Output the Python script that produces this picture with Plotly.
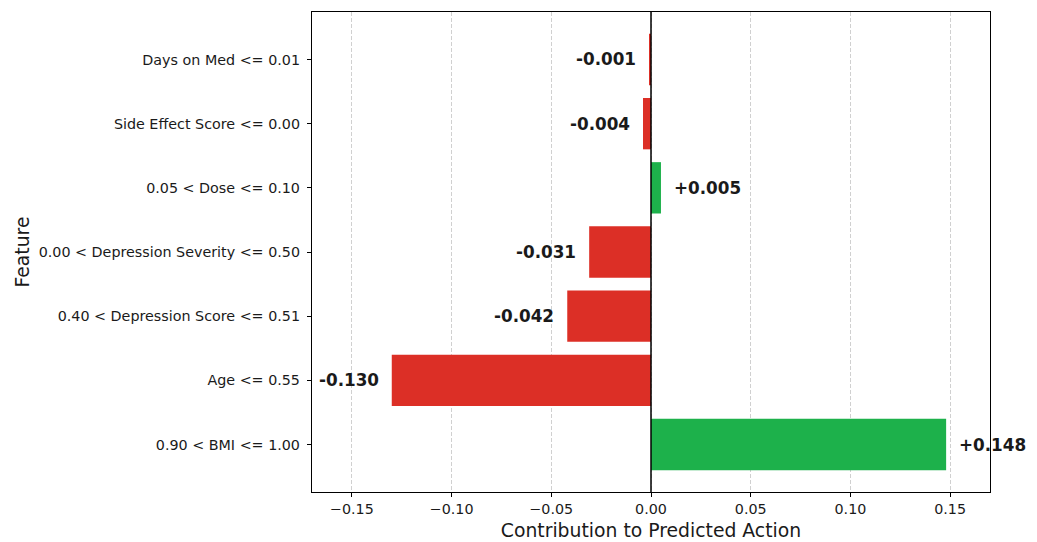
import plotly.graph_objects as go

features = [
    "Days on Med <= 0.01",
    "Side Effect Score <= 0.00",
    "0.05 < Dose <= 0.10",
    "0.00 < Depression Severity <= 0.50",
    "0.40 < Depression Score <= 0.51",
    "Age <= 0.55",
    "0.90 < BMI <= 1.00",
]
contributions = [-0.001, -0.004, 0.005, -0.031, -0.042, -0.130, 0.148]
x_ticks = [-0.15, -0.10, -0.05, 0.00, 0.05, 0.10, 0.15]
x_tick_labels = ["\u22120.15", "\u22120.10", "\u22120.05", "0.00", "0.05", "0.10", "0.15"]

RED = "#dc2f26"
GREEN = "#1db14b"
colors = [GREEN if v > 0 else RED for v in contributions]

# matplotlib barh style: first listed feature at the top
ypos = list(range(len(features)))[::-1]

fig = go.Figure()
fig.add_trace(go.Bar(
    x=contributions,
    y=ypos,
    orientation="h",
    width=0.8,
    marker=dict(color=colors, line=dict(width=0)),
    hoverinfo="skip",
))

for v, y in zip(contributions, ypos):
    txt = f"{v:+.3f}"
    fig.add_annotation(
        x=v, y=y, xref="x", yref="y",
        text=f"<b>{txt}</b>",
        showarrow=False,
        xanchor="left" if v > 0 else "right",
        xshift=11 if v > 0 else -11,
        font=dict(family="DejaVu Sans", size=16.8, color="#1a1a1a"),
    )

fig.add_shape(type="line", x0=0, x1=0, y0=0, y1=1, xref="x", yref="paper",
              line=dict(color="black", width=1.5))

# page body has an 8px margin; compensate so the plot lands where the reference has it
fig.update_layout(
    width=1029, height=534,
    margin=dict(l=304, r=47, t=4, b=50),
    paper_bgcolor="white",
    plot_bgcolor="white",
    showlegend=False,
    font=dict(family="DejaVu Sans", size=14.3, color="#1a1a1a"),
)
fig.update_xaxes(
    range=[-0.17, 0.17],
    tickvals=x_ticks,
    ticktext=x_tick_labels,
    showgrid=True,
    gridcolor="#d0d0d0",
    griddash="4px,2px",
    gridwidth=1,
    zeroline=False,
    showline=True, linecolor="black", linewidth=1.3, mirror=True,
    ticks="outside", ticklen=4, tickcolor="black",
    tickfont=dict(size=14.3),
    title=dict(text="Contribution to Predicted Action", font=dict(size=18.8), standoff=7),
)
fig.update_yaxes(
    range=[-0.74, 6.74],
    tickvals=ypos,
    ticktext=features,
    showgrid=False,
    zeroline=False,
    showline=True, linecolor="black", linewidth=1.3, mirror=True,
    ticks="outside", ticklen=4, tickcolor="black",
    ticklabelstandoff=4,
    tickfont=dict(size=14.3),
    title=dict(text="Feature", font=dict(size=18.8), standoff=4),
)

fig.write_html("out.html")
